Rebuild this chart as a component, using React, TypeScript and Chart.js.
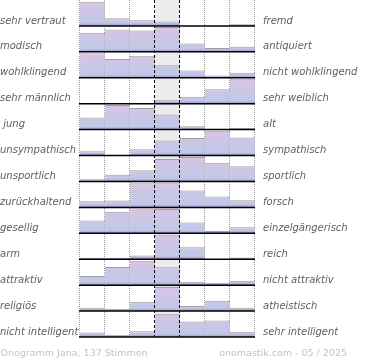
import React, { useEffect, useRef } from "react";
import { Chart, registerables } from "chart.js";

Chart.register(...registerables);

// ---- data ----
const categories = ["-3", "-2", "-1", "0", "1", "2", "3"];

const leftLabels = [
  "sehr vertraut",
  "modisch",
  "wohlklingend",
  "sehr männlich",
  " jung",
  "unsympathisch",
  "unsportlich",
  "zurückhaltend",
  "gesellig",
  "arm",
  "attraktiv",
  "religiös",
  "nicht intelligent",
];

const rightLabels = [
  "fremd",
  "antiquiert",
  "nicht wohlklingend",
  "sehr weiblich",
  "alt",
  "sympathisch",
  "sportlich",
  "forsch",
  "einzelgängerisch",
  "reich",
  "nicht attraktiv",
  "atheistisch",
  "sehr intelligent",
];

// bar heights per row, in percent of the row height
const vertrautFremd = [93, 30, 22, 17, 0, 0, 6.5];
const modischAntiquiert = [74, 86, 82, 96, 32, 15, 20];
const wohlklingend = [95, 72, 85, 48, 28, 8.5, 19];
const maennlichWeiblich = [0, 0, 0, 13, 27, 56, 96];
const jungAlt = [47, 95, 83, 58, 13, 0, 6];
const sympathisch = [17, 0, 24, 58, 68, 96, 70];
const sportlich = [9, 26, 43, 87, 94, 72, 59];
const zurueckhaltendForsch = [24, 27, 93, 93, 65, 42, 28];
const geselligEinzelgaenger = [49, 83, 96, 94, 42, 9, 23];
const armReich = [6, 6, 14, 94, 46, 0, 6.5];
const attraktiv = [35, 70, 94, 69, 13, 9, 17];
const religioesAtheistisch = [13, 9, 36, 93, 20, 40, 13];
const intelligent = [17, 9, 22, 90, 60, 64, 20];

const rows = [
  vertrautFremd,
  modischAntiquiert,
  wohlklingend,
  maennlichWeiblich,
  jungAlt,
  sympathisch,
  sportlich,
  zurueckhaltendForsch,
  geselligEinzelgaenger,
  armReich,
  attraktiv,
  religioesAtheistisch,
  intelligent,
];

const footerLeft = "Onogramm Jana, 137 Stimmen";
const footerRight = "onomastik.com - 05 / 2025";

const centerIndex = 3;

function rowGradient(chart: any, i: number) {
  const area = chart.chartArea;
  const y = chart.scales?.y;
  if (!area || !y) return "#c4c9e8";
  const top = y.getPixelForValue(i);
  const bot = y.getPixelForValue(i + 1);
  const g = chart.ctx.createLinearGradient(0, top, 0, bot);
  g.addColorStop(0, "#dcc3e3");
  g.addColorStop(0.45, "#cbc6e6");
  g.addColorStop(0.88, "#c2c8e8");
  g.addColorStop(1, "#a393cb");
  return g;
}

const onogrammPlugin = {
  id: "onogramm",
  beforeDatasetsDraw(chart: any) {
    const { ctx, chartArea: a } = chart;
    const n = categories.length;
    const w = (a.right - a.left) / n;
    ctx.save();
    ctx.fillStyle = "#ececec";
    ctx.fillRect(a.left + centerIndex * w, a.top, w, a.bottom - a.top);
    ctx.strokeStyle = "#9c9c9c";
    ctx.lineWidth = 1;
    ctx.setLineDash([1, 1]);
    for (let k = 0; k <= n; k++) {
      if (k === centerIndex || k === centerIndex + 1) continue;
      const px = Math.round(a.left + k * w) - 0.5;
      ctx.beginPath();
      ctx.moveTo(px, a.top);
      ctx.lineTo(px, a.bottom);
      ctx.stroke();
    }
    ctx.restore();
  },
  afterDatasetsDraw(chart: any) {
    const { ctx, chartArea: a, scales } = chart;
    const y = scales.y;
    const n = categories.length;
    const w = (a.right - a.left) / n;
    ctx.save();
    ctx.strokeStyle = "#000";
    ctx.lineWidth = 1.5;
    for (let i = 1; i <= rows.length; i++) {
      const py = y.getPixelForValue(i);
      ctx.beginPath();
      ctx.moveTo(a.left - 1, py);
      ctx.lineTo(a.right, py);
      ctx.stroke();
    }
    ctx.lineWidth = 1;
    ctx.setLineDash([3, 2]);
    for (const k of [centerIndex, centerIndex + 1]) {
      const px = Math.round(a.left + k * w) - 0.5;
      ctx.beginPath();
      ctx.moveTo(px, a.top);
      ctx.lineTo(px, a.bottom);
      ctx.stroke();
    }
    ctx.restore();
  },
  afterDraw(chart: any) {
    const { ctx } = chart;
    ctx.save();
    ctx.font = '9.5px "DejaVu Sans"';
    ctx.fillStyle = "#c3c3c3";
    ctx.textBaseline = "alphabetic";
    ctx.textAlign = "left";
    ctx.fillText(footerLeft, 0.5, chart.height - 4.5);
    ctx.textAlign = "right";
    ctx.fillText(footerRight, chart.width - 23, chart.height - 4.5);
    ctx.restore();
  },
};

export default function App() {
  const canvasRef = useRef<HTMLCanvasElement | null>(null);

  useEffect(() => {
    if (!canvasRef.current) return;
    Chart.defaults.font.family = '"DejaVu Sans"';

    const datasets = rows.map((vals, i) => ({
      label: leftLabels[i].trim() + " / " + rightLabels[i],
      data: vals.map((v) => (v > 0 ? [i + 1 - v / 100, i + 1] : null)),
      xAxisID: "x",
      yAxisID: "y",
      grouped: false,
      barPercentage: 1,
      categoryPercentage: 1,
      backgroundColor: (ctx: any) => rowGradient(ctx.chart, i),
      borderColor: "#a0a0a0",
      borderWidth: { top: 1, left: 0.5, right: 0.5, bottom: 0 },
      borderSkipped: false,
      inflateAmount: 0,
    }));

    const labelFont = { family: '"DejaVu Sans"', size: 10, style: "italic" as const };

    const chart = new Chart(canvasRef.current, {
      type: "bar",
      data: { labels: categories, datasets: datasets as any },
      plugins: [onogrammPlugin],
      options: {
        animation: false,
        responsive: false,
        devicePixelRatio: 1,
        layout: { padding: { top: 0, bottom: 23, left: 0, right: 0 } },
        plugins: { legend: { display: false }, tooltip: { enabled: false } },
        scales: {
          x: { type: "category", display: false, offset: true },
          y: { type: "linear", display: false, reverse: true, min: 0, max: rows.length },
          yl: {
            type: "category",
            position: "left",
            labels: leftLabels,
            offset: true,
            grid: { display: false, drawTicks: false },
            border: { display: false },
            ticks: {
              crossAlign: "far",
              labelOffset: 8,
              padding: 0,
              autoSkip: false,
              color: "#606060",
              font: labelFont,
            },
            afterFit: (s: any) => {
              s.width = 80;
              s.paddingTop = 0;
              s.paddingBottom = 0;
            },
          },
          yr: {
            type: "category",
            position: "right",
            labels: rightLabels,
            offset: true,
            grid: { display: false, drawTicks: false },
            border: { display: false },
            ticks: {
              labelOffset: 8,
              padding: 8,
              autoSkip: false,
              color: "#606060",
              font: labelFont,
            },
            afterFit: (s: any) => {
              s.width = 115;
              s.paddingTop = 0;
              s.paddingBottom = 0;
            },
          },
        } as any,
      },
    });
    return () => chart.destroy();
  }, []);

  return (
    <div style={{ position: "absolute", left: 0, top: 0, width: 370, height: 360 }}>
      <canvas ref={canvasRef} width={370} height={360} />
    </div>
  );
}
